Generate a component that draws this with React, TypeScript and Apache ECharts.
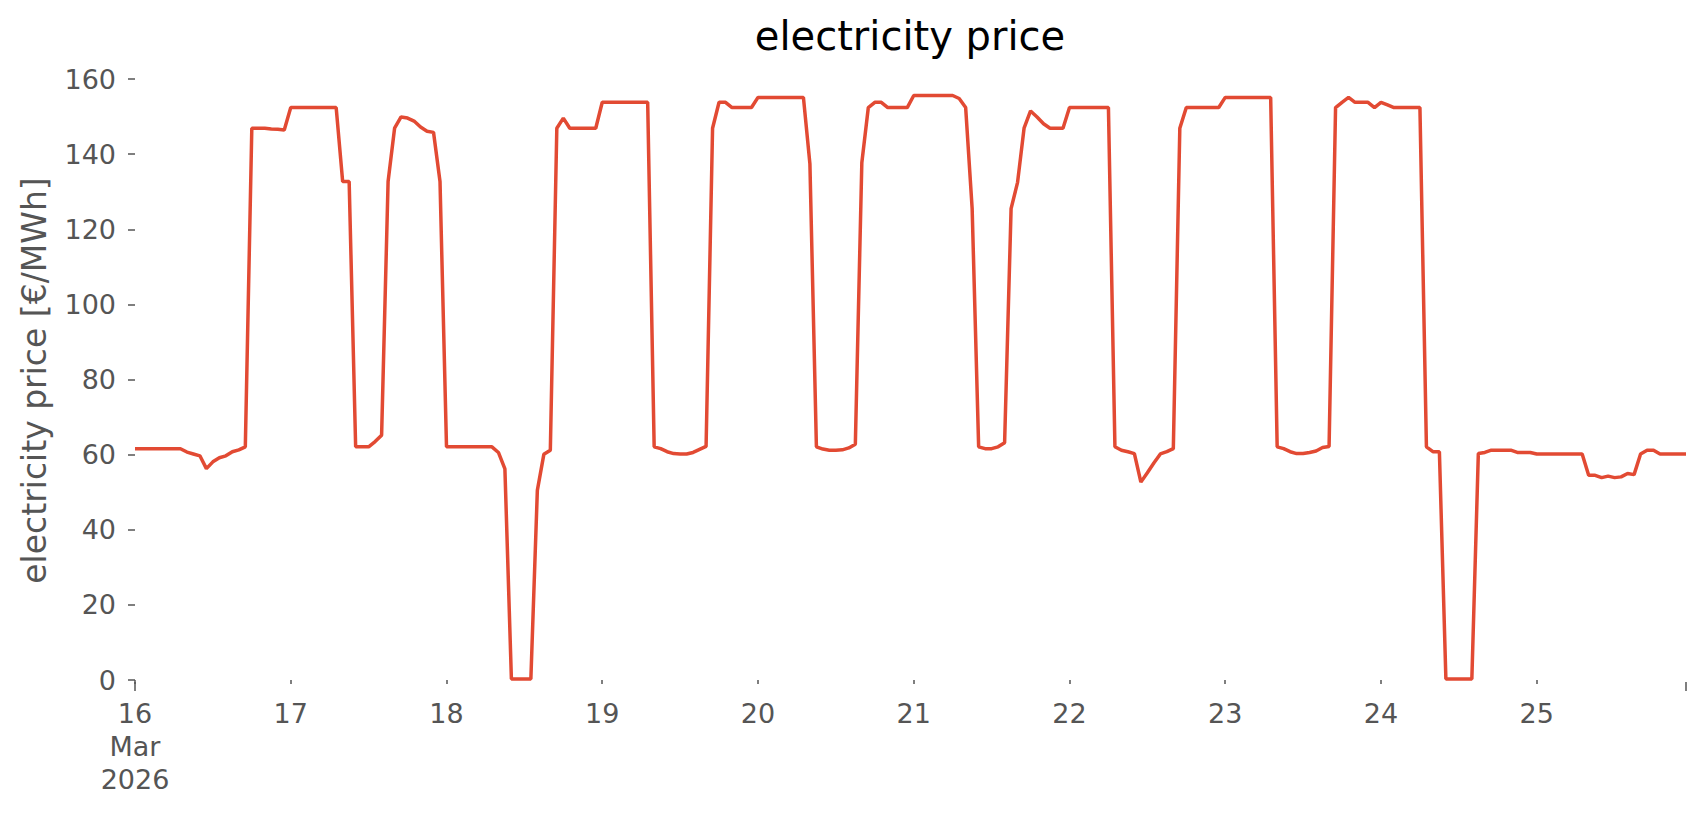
import React, { useEffect, useRef } from "react";
import * as echarts from "echarts";

// Hourly day-ahead prices [€/MWh], 16 Mar 2026 00:00 .. 25 Mar 2026 23:00
const day16 = [61.6, 61.6, 61.6, 61.6, 61.6, 61.6, 61.6, 61.6, 60.7, 60.2, 59.7, 56.3, 58.1, 59.2, 59.7, 60.8, 61.3, 62.1, 146.9, 146.9, 146.9, 146.7, 146.6, 146.4];
const day17 = [152.4, 152.4, 152.4, 152.4, 152.4, 152.4, 152.4, 152.4, 132.7, 132.7, 62.1, 62.1, 62.1, 63.5, 65.2, 132.7, 146.9, 149.9, 149.6, 148.8, 147.2, 146.1, 145.8, 132.7];
const day18 = [62.1, 62.1, 62.1, 62.1, 62.1, 62.1, 62.1, 62.1, 60.6, 56.2, 0.3, 0.3, 0.3, 0.3, 50.5, 60.1, 61.2, 146.9, 149.6, 146.9, 146.9, 146.9, 146.9, 146.9];
const day19 = [153.8, 153.8, 153.8, 153.8, 153.8, 153.8, 153.8, 153.8, 62.1, 61.6, 60.8, 60.3, 60.2, 60.2, 60.6, 61.4, 62.2, 146.9, 153.8, 153.8, 152.4, 152.4, 152.4, 152.4];
const day20 = [155.1, 155.1, 155.1, 155.1, 155.1, 155.1, 155.1, 155.1, 137.4, 62.1, 61.5, 61.2, 61.2, 61.3, 61.8, 62.8, 137.7, 152.4, 153.8, 153.8, 152.4, 152.4, 152.4, 152.4];
const day21 = [155.6, 155.6, 155.6, 155.6, 155.6, 155.6, 155.6, 154.8, 152.4, 125.5, 62.1, 61.6, 61.6, 62.1, 63.2, 125.5, 132.5, 146.9, 151.5, 149.9, 148.1, 146.9, 146.9, 146.9];
const day22 = [152.4, 152.4, 152.4, 152.4, 152.4, 152.4, 152.4, 62.1, 61.2, 60.8, 60.3, 52.7, 55.2, 57.8, 60.2, 60.8, 61.6, 146.9, 152.4, 152.4, 152.4, 152.4, 152.4, 152.4];
const day23 = [155.1, 155.1, 155.1, 155.1, 155.1, 155.1, 155.1, 155.1, 62.1, 61.6, 60.8, 60.3, 60.3, 60.6, 61.0, 61.9, 62.2, 152.4, 153.8, 155.1, 153.8, 153.8, 153.8, 152.4];
const day24 = [153.8, 153.1, 152.4, 152.4, 152.4, 152.4, 152.4, 62.1, 60.8, 60.8, 0.3, 0.3, 0.3, 0.3, 0.3, 60.3, 60.6, 61.2, 61.2, 61.2, 61.2, 60.6, 60.6, 60.6];
const day25 = [60.2, 60.2, 60.2, 60.2, 60.2, 60.2, 60.2, 60.2, 54.5, 54.5, 53.9, 54.3, 53.9, 54.1, 55.0, 54.7, 60.2, 61.2, 61.2, 60.2, 60.2, 60.2, 60.2, 60.2];

const dayLabels = ["16\nMar\n2026", "17", "18", "19", "20", "21", "22", "23", "24", "25"];
const yTicks = [0, 20, 40, 60, 80, 100, 120, 140, 160];

const prices = [
  ...day16, ...day17, ...day18, ...day19, ...day20,
  ...day21, ...day22, ...day23, ...day24, ...day25,
];

const START = Date.UTC(2026, 2, 16, 0, 0, 0);
const categories = prices.map((_, i) =>
  new Date(START + i * 3600 * 1000).toISOString().slice(0, 16)
);

const FONT = "DejaVu Sans";
const GREY = "#555555";

export default function App() {
  const ref = useRef<HTMLDivElement>(null);

  useEffect(() => {
    if (!ref.current) return;
    const chart = echarts.init(ref.current, null, { renderer: "svg" });
    const last = categories.length - 1;
    chart.setOption({
      animation: false,
      backgroundColor: "#ffffff",
      textStyle: { fontFamily: FONT },
      title: {
        text: "electricity price",
        left: 910,
        top: 16,
        padding: 0,
        textAlign: "center",
        textStyle: { fontFamily: FONT, fontSize: 40, fontWeight: "normal", color: "#000000" },
      },
      grid: { left: 135, right: 20, top: 79, bottom: 133, containLabel: false },
      xAxis: [
        {
          type: "category",
          data: categories,
          boundaryGap: false,
          axisLine: { show: false },
          splitLine: { show: false },
          axisTick: {
            show: true,
            length: 4,
            interval: (index: number) => index % 24 === 0,
            lineStyle: { color: GREY, width: 1.5 },
          },
          axisLabel: {
            show: true,
            interval: (index: number) => index % 24 === 0,
            formatter: (_v: string, index: number) => dayLabels[Math.floor(index / 24)] ?? "",
            color: GREY,
            fontFamily: FONT,
            fontSize: 27,
            lineHeight: 33,
            margin: 15,
          },
        },
        {
          type: "category",
          data: categories,
          boundaryGap: false,
          position: "bottom",
          axisLine: { show: false },
          splitLine: { show: false },
          axisLabel: { show: false },
          axisTick: {
            show: true,
            length: 9,
            interval: (index: number) => index === 0 || index === last,
            lineStyle: { color: GREY, width: 1.5 },
          },
        },
      ],
      yAxis: {
        type: "value",
        min: -0.5,
        max: 160,
        name: "electricity price [€/MWh]",
        nameLocation: "middle",
        nameGap: 84,
        nameTextStyle: { color: GREY, fontFamily: FONT, fontSize: 33 },
        axisLine: { show: false },
        splitLine: { show: false },
        axisTick: {
          show: true,
          length: 7,
          customValues: yTicks,
          lineStyle: { color: GREY, width: 1.5 },
        },
        axisLabel: {
          show: true,
          customValues: yTicks,
          color: GREY,
          fontFamily: FONT,
          fontSize: 27,
          margin: 19,
        },
      },
      series: [
        {
          type: "line",
          data: prices,
          xAxisIndex: 0,
          showSymbol: false,
          symbol: "none",
          lineStyle: { color: "#E24A33", width: 3.5 },
          itemStyle: { color: "#E24A33" },
        },
      ],
    });
    return () => chart.dispose();
  }, []);

  return (
    <div
      ref={ref}
      style={{ position: "fixed", left: 0, top: 0, width: 1706, height: 815, background: "#fff" }}
    />
  );
}
